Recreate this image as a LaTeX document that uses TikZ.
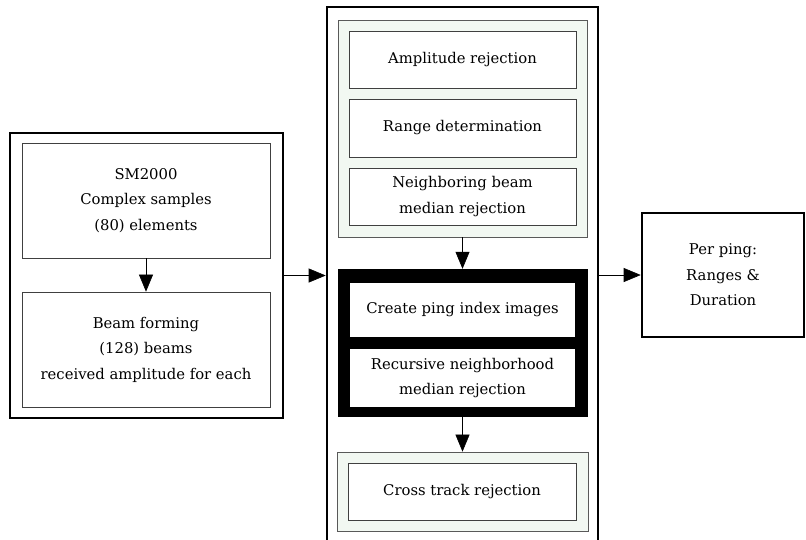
\documentclass[tikz,border=0pt]{standalone}
\usepackage{fontspec}
\setmainfont{DejaVu Serif}
\usetikzlibrary{arrows.meta}
\definecolor{grpfill}{RGB}{242,248,242}
\begin{document}
\begin{tikzpicture}[x=1pt,y=-1pt,
  txt/.style={font=\fontsize{14.8}{25.5}\selectfont, align=center},
  outerbox/.style={draw=black, line width=2.6pt, fill=white, inner sep=0pt},
  innerbox/.style={draw=black!75, line width=0.7pt, fill=white, inner sep=0pt, txt},
  grpbox/.style={draw=black!65, line width=0.7pt, fill=grpfill, inner sep=0pt},
  heavybox/.style={draw=none, fill=black, inner sep=0pt},
  whitebox/.style={draw=none, fill=white, inner sep=0pt, txt},
  conn/.style={draw=black, line width=0.6pt, -{Triangle[length=17pt,width=14pt]}}
]
\clip (0,0) rectangle (806,539);
\fill[white] (0,0) rectangle (806,539);

% left group
\node[outerbox, minimum width=273pt, minimum height=285pt] (lout) at (146.5,275.5) {};
\node[innerbox, minimum width=248pt, minimum height=115pt] (sm) at (146,200.5) {SM2000\\Complex samples\\(80) elements};
\node[innerbox, minimum width=248pt, minimum height=115pt] (bf) at (146,349.5) {Beam forming\\(128) beams\\received amplitude for each};

% center group
\node[outerbox, minimum width=271pt, minimum height=538pt] (cout) at (462.5,276) {};
\node[grpbox, minimum width=249pt, minimum height=217pt] (g1) at (462.5,128.5) {};
\node[innerbox, minimum width=227pt, minimum height=57pt] (amp) at (462.5,59.5) {Amplitude rejection};
\node[innerbox, minimum width=227pt, minimum height=58pt] (rng) at (462.5,128) {Range determination};
\node[innerbox, minimum width=227pt, minimum height=57pt] (nbr) at (462.5,196.5) {Neighboring beam\\median rejection};

\node[heavybox, minimum width=250pt, minimum height=148pt] (g2) at (462.5,343) {};
\node[whitebox, minimum width=225pt, minimum height=54pt] (cpi) at (462.5,310) {Create ping index images};
\node[whitebox, minimum width=225pt, minimum height=58pt] (rec) at (462.5,378) {Recursive neighborhood\\median rejection};

\node[grpbox, minimum width=251pt, minimum height=79pt] (g3) at (462.5,491.5) {};
\node[innerbox, minimum width=228pt, minimum height=57pt] (ctr) at (462,491.5) {Cross track rejection};

% right
\node[outerbox, minimum width=162pt, minimum height=124pt, txt] (out) at (723,275) {Per ping:\\Ranges \&\\Duration};

% connectors
\draw[conn] (sm.south) -- (bf.north);
\draw[conn] (g1.south) -- (g2.north);
\draw[conn] (g2.south) -- (g3.north);
\draw[conn] (lout.east) -- (lout.east -| cout.west);
\draw[conn] (cout.east |- out.west) -- (out.west);
\end{tikzpicture}
\end{document}
